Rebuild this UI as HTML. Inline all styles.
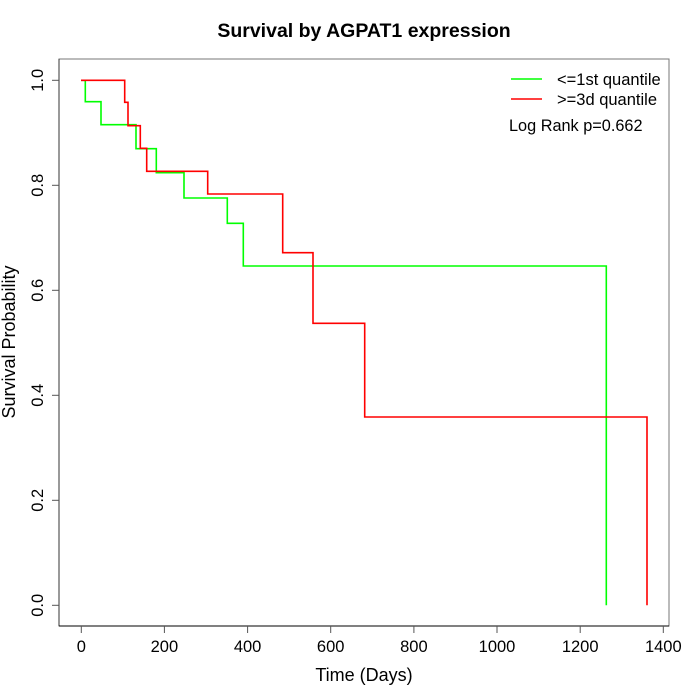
<!DOCTYPE html>
<html><head><meta charset="utf-8"><style>
html,body{margin:0;padding:0;background:#fff;}
svg{display:block;}
text{font-family:"Liberation Sans",Arial,sans-serif;fill:#000;}
</style></head><body>
<svg width="700" height="700" viewBox="0 0 700 700" xmlns="http://www.w3.org/2000/svg">
<rect x="0" y="0" width="700" height="700" fill="#fff"/>
<text x="364" y="37" font-size="19.5" font-weight="bold" text-anchor="middle">Survival by AGPAT1 expression</text>
<!-- box -->
<rect x="59" y="59" width="610" height="567" fill="none" stroke="#777" stroke-width="1"/>
<line x1="59" y1="59" x2="59" y2="626" stroke="#333" stroke-width="1"/>
<line x1="59" y1="626" x2="669" y2="626" stroke="#000" stroke-width="1"/>
<!-- y ticks -->
<g stroke="#555" stroke-width="1">
<line x1="52" y1="605.3" x2="59" y2="605.3"/>
<line x1="52" y1="500.3" x2="59" y2="500.3"/>
<line x1="52" y1="395.3" x2="59" y2="395.3"/>
<line x1="52" y1="290.3" x2="59" y2="290.3"/>
<line x1="52" y1="185.3" x2="59" y2="185.3"/>
<line x1="52" y1="80.3" x2="59" y2="80.3"/>
</g>
<g font-size="16.5" text-anchor="middle">
<text transform="translate(43,605.3) rotate(-90)">0.0</text>
<text transform="translate(43,500.3) rotate(-90)">0.2</text>
<text transform="translate(43,395.3) rotate(-90)">0.4</text>
<text transform="translate(43,290.3) rotate(-90)">0.6</text>
<text transform="translate(43,185.3) rotate(-90)">0.8</text>
<text transform="translate(43,80.3) rotate(-90)">1.0</text>
</g>
<!-- x ticks -->
<g stroke="#555" stroke-width="1">
<line x1="81.3" y1="626" x2="81.3" y2="633"/>
<line x1="164.4" y1="626" x2="164.4" y2="633"/>
<line x1="247.6" y1="626" x2="247.6" y2="633"/>
<line x1="330.7" y1="626" x2="330.7" y2="633"/>
<line x1="413.9" y1="626" x2="413.9" y2="633"/>
<line x1="497" y1="626" x2="497" y2="633"/>
<line x1="580.2" y1="626" x2="580.2" y2="633"/>
<line x1="663.3" y1="626" x2="663.3" y2="633"/>
</g>
<g font-size="16.5" text-anchor="middle">
<text x="81.3" y="652">0</text>
<text x="164.4" y="652">200</text>
<text x="247.6" y="652">400</text>
<text x="330.7" y="652">600</text>
<text x="413.9" y="652">800</text>
<text x="497" y="652">1000</text>
<text x="580.2" y="652">1200</text>
<text x="663.3" y="652">1400</text>
</g>
<text x="364" y="681" font-size="18" text-anchor="middle">Time (Days)</text>
<text transform="translate(15,342) rotate(-90)" font-size="18" text-anchor="middle">Survival Probability</text>
<!-- green curve -->
<polyline fill="none" stroke="#00ff00" stroke-width="1.6" points="81,80.3 85.3,80.3 85.3,101.7 101,101.7 101,124.7 136,124.7 136,148.7 156.3,148.7 156.3,172.7 184,172.7 184,198 227.3,198 227.3,223.3 243.3,223.3 243.3,266 606.3,266 606.3,605.3"/>
<!-- red curve -->
<polyline fill="none" stroke="#ff0000" stroke-width="1.6" points="81,80.3 124.7,80.3 124.7,102.3 128,102.3 128,125.7 140.3,125.7 140.3,148.3 146.7,148.3 146.7,171.3 207.7,171.3 207.7,194 282.7,194 282.7,252.7 313,252.7 313,323.3 364.7,323.3 364.7,417 647,417 647,605.3"/>
<!-- legend -->
<line x1="511" y1="79" x2="542" y2="79" stroke="#00ff00" stroke-width="1.6"/>
<line x1="511" y1="99" x2="542" y2="99" stroke="#ff0000" stroke-width="1.6"/>
<text x="557" y="85" font-size="16.5">&lt;=1st quantile</text>
<text x="557" y="105" font-size="16.5">&gt;=3d quantile</text>
<text x="509" y="131" font-size="16.3">Log Rank p=0.662</text>
</svg>
</body></html>
